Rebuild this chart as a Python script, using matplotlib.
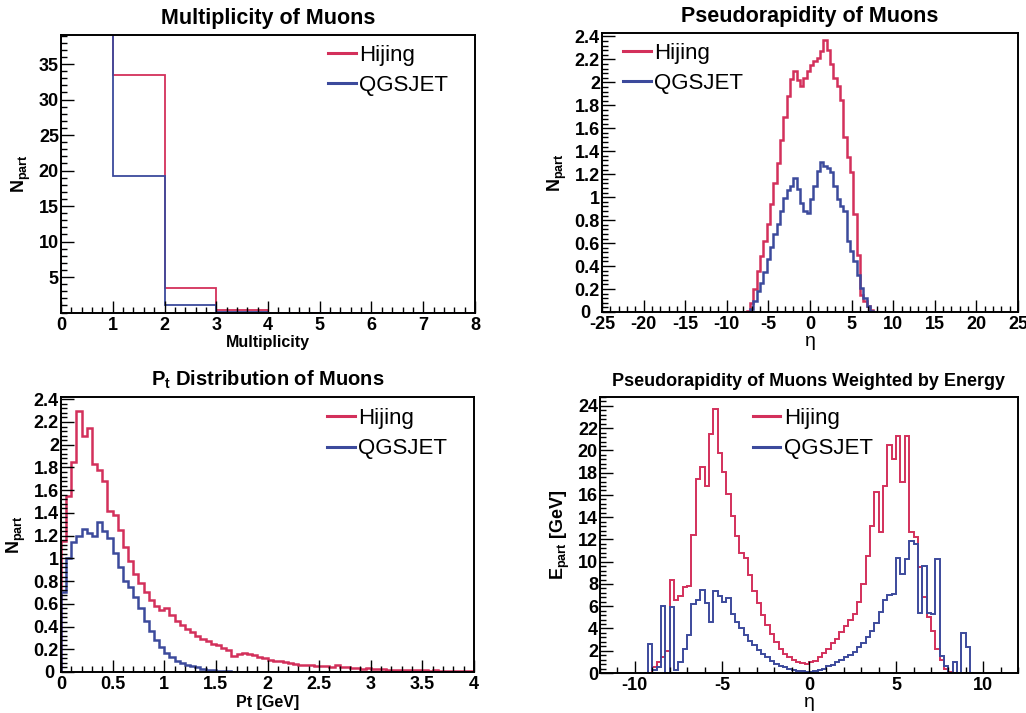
import numpy as np
import matplotlib
matplotlib.use('Agg')
import matplotlib.pyplot as plt
from matplotlib.ticker import MultipleLocator, FormatStrFormatter
from matplotlib.lines import Line2D
from matplotlib.transforms import ScaledTranslation

plt.rcParams['font.family'] = ['Liberation Sans', 'DejaVu Sans']
plt.rcParams['font.weight'] = 'bold'
plt.rcParams['axes.labelweight'] = 'bold'
plt.rcParams['mathtext.fontset'] = 'custom'
plt.rcParams['mathtext.rm'] = 'Liberation Sans:bold'
plt.rcParams['mathtext.bf'] = 'Liberation Sans:bold'
plt.rcParams['mathtext.it'] = 'Liberation Sans:bold'

RED = '#d3305b'
BLUE = '#3c4a9c'

# ---- multiplicity of muons (bins of 1)
mult_edges = [0, 1, 2, 3, 4, 5, 6, 7, 8]
mult_hijing = [52.0, 33.5, 3.4, 0.3, 0, 0, 0, 0]
mult_qgsjet = [47.0, 19.3, 1.0, 0.1, 0, 0, 0, 0]

# ---- pseudorapidity of muons (bins of 0.4 from -8 to 8)
eta_lo, eta_hi, eta_bin = -8.0, 8.0, 0.4
eta_hijing = [0.0, 0.01, 0.08, 0.20, 0.36, 0.49, 0.62, 0.77, 0.94, 1.12,
              1.30, 1.50, 1.70, 1.88, 2.03, 2.10, 2.02, 1.97, 2.04, 2.10,
              2.15, 2.19, 2.21, 2.27, 2.37, 2.28, 2.16, 2.04, 1.97, 1.85,
              1.52, 1.35, 1.22, 0.85, 0.50, 0.15, 0.10, 0.05, 0.02, 0.0]
eta_qgsjet = [0.0, 0.0, 0.03, 0.10, 0.18, 0.25, 0.35, 0.46, 0.57, 0.68,
              0.77, 0.88, 0.99, 1.06, 1.10, 1.17, 1.07, 0.95, 0.88, 0.86,
              0.98, 1.10, 1.23, 1.31, 1.27, 1.25, 1.22, 1.10, 0.98, 0.92,
              0.88, 0.62, 0.53, 0.44, 0.32, 0.21, 0.12, 0.05, 0.01, 0.0]

# ---- pt distribution (bins of 0.05 GeV from 0 to 4)
pt_lo, pt_hi, pt_bin = 0.0, 4.0, 0.05
pt_hijing = [1.15, 1.55, 1.85, 2.30, 2.08, 2.15, 1.83, 1.78, 1.68, 1.42,
             1.38, 1.25, 1.10, 0.98, 0.86, 0.78, 0.70, 0.63, 0.58, 0.55,
             0.56, 0.50, 0.45, 0.41, 0.38, 0.35, 0.32, 0.29, 0.27, 0.25,
             0.24, 0.21, 0.19, 0.14, 0.16, 0.17, 0.16, 0.15, 0.13, 0.12,
             0.11, 0.10, 0.095, 0.085, 0.08, 0.07, 0.065, 0.06, 0.06, 0.055,
             0.05, 0.05, 0.045, 0.06, 0.045, 0.04, 0.035, 0.035, 0.03, 0.035,
             0.03, 0.025, 0.025, 0.02, 0.02, 0.02, 0.02, 0.018, 0.018, 0.015,
             0.015, 0.013, 0.015, 0.012, 0.012, 0.01, 0.012, 0.01, 0.01, 0.01]
pt_qgsjet = [0.70, 1.00, 1.14, 1.20, 1.26, 1.22, 1.20, 1.32, 1.24, 1.18,
             1.05, 0.92, 0.80, 0.75, 0.66, 0.56, 0.45, 0.36, 0.28, 0.22,
             0.17, 0.13, 0.10, 0.08, 0.065, 0.05, 0.04, 0.03, 0.02, 0.015,
             0.012, 0.008, 0.006, 0.004, 0.003, 0.002, 0.0, 0.0, 0.0, 0.0,
             0.0, 0.0, 0.0, 0.0, 0.0, 0.0, 0.0, 0.0, 0.0, 0.0,
             0.0, 0.0, 0.0, 0.0, 0.0, 0.0, 0.0, 0.0, 0.0, 0.0,
             0.0, 0.0, 0.0, 0.0, 0.0, 0.0, 0.0, 0.0, 0.0, 0.0,
             0.0, 0.0, 0.0, 0.0, 0.0, 0.0, 0.0, 0.0, 0.0, 0.0]

# ---- pseudorapidity weighted by energy (bins of 0.25 from -9.5 to 9.5)
ew_lo, ew_hi, ew_bin = -9.5, 9.5, 0.25
ew_hijing = [0.0, 0.0, 0.5, 1.0, 1.4, 2.0, 8.4, 6.6, 6.9, 7.7,
             7.8, 12.4, 17.4, 18.5, 16.8, 21.5, 23.7, 19.8, 18.1, 16.1,
             14.1, 12.3, 10.8, 10.3, 8.8, 7.4, 6.3, 5.2, 4.3, 3.5,
             2.8, 2.2, 1.7, 1.4, 1.15, 1.0, 0.9, 0.85,
             0.95, 1.1, 1.4, 1.8, 2.2, 2.7, 3.1, 3.7, 4.2, 4.8,
             5.3, 6.4, 8.0, 10.5, 13.2, 16.3, 12.7, 16.8, 20.5, 19.2,
             21.3, 17.2, 21.3, 12.7, 12.2, 9.5, 6.8, 5.0, 3.8, 2.2,
             1.2, 0.4, 0.1, 0.0, 0.0, 0.0, 0.0, 0.0]
ew_qgsjet = [0.0, 2.6, 0.3, 0.5, 6.0, 0.0, 5.9, 0.3, 1.0, 2.2,
             3.4, 6.2, 6.6, 7.5, 6.3, 4.6, 7.4, 6.9, 6.4, 6.7,
             5.3, 4.6, 4.0, 3.4, 2.9, 2.5, 2.1, 1.7, 1.4, 1.1,
             0.85, 0.65, 0.5, 0.37, 0.27, 0.2, 0.15, 0.12,
             0.1, 0.15, 0.25, 0.4, 0.6, 0.75, 0.95, 1.15, 1.4, 1.65,
             1.9, 2.3, 2.7, 3.2, 3.8, 4.5, 5.5, 6.6, 7.0, 7.1,
             10.3, 8.9, 10.2, 11.9, 11.6, 5.4, 9.6, 5.4, 5.3, 10.2,
             1.5, 0.6, 0.0, 1.0, 0.0, 3.6, 2.3, 0.0]


def edges(lo, hi, w):
    return np.linspace(lo, hi, int(round((hi - lo) / w)) + 1)


def style(ax, xmaj, xmin, ymaj, ymin, xfmt='%g', yfmt='%g'):
    ax.xaxis.set_major_locator(MultipleLocator(xmaj))
    ax.xaxis.set_minor_locator(MultipleLocator(xmin))
    ax.yaxis.set_major_locator(MultipleLocator(ymaj))
    ax.yaxis.set_minor_locator(MultipleLocator(ymin))
    ax.xaxis.set_major_formatter(FormatStrFormatter(xfmt))
    ax.yaxis.set_major_formatter(FormatStrFormatter(yfmt))
    ax.tick_params(which='both', direction='in', top=False, right=False,
                   labelsize=13, width=1.0)
    ax.tick_params(axis='x', pad=3)
    ax.tick_params(axis='y', pad=1.5)
    ax.tick_params(which='major', length=9)
    ax.tick_params(which='minor', length=4.5)
    for s in ax.spines.values():
        s.set_linewidth(1.4)


def legend(ax, x, y):
    h = [Line2D([], [], color=RED, lw=2.2), Line2D([], [], color=BLUE, lw=2.2)]
    ax.legend(h, ['Hijing', 'QGSJET'], loc='upper left', bbox_to_anchor=(x, y),
              frameon=False, prop={'size': 16, 'weight': 'normal'},
              handlelength=1.25, handletextpad=0.15, labelspacing=0.42,
              borderpad=0, borderaxespad=0)


W, H = 1026, 713
fig = plt.figure(figsize=(W / 100, H / 100), dpi=100)


def add_axes(l, r, t, b):
    return fig.add_axes([l / W, 1 - b / H, (r - l) / W, (b - t) / H])


# panel 1
ax1 = add_axes(61, 475, 35, 312.5)
ax1.stairs(mult_hijing, mult_edges, color=RED, lw=1.3, baseline=0)
ax1.stairs(mult_qgsjet, mult_edges, color=BLUE, lw=1.3, baseline=0)
ax1.set_xlim(0, 8)
ax1.set_ylim(0, 39.1)
style(ax1, 1, 0.2, 5, 1)
ax1.set_yticks([5, 10, 15, 20, 25, 30, 35])
ax1.set_title('Multiplicity of Muons', fontsize=15.5, fontweight='bold', pad=8)
ax1.set_xlabel('Multiplicity', fontsize=11.5, fontweight='bold', labelpad=1)
ax1.set_ylabel(r'$\mathrm{N_{part}}$', fontsize=13, labelpad=4)
legend(ax1, 0.645, 0.965)

# panel 2
ax2 = add_axes(602, 1018, 33, 312)
ax2.stairs(eta_hijing, edges(eta_lo, eta_hi, eta_bin), color=RED, lw=1.8, baseline=0)
ax2.stairs(eta_qgsjet, edges(eta_lo, eta_hi, eta_bin), color=BLUE, lw=1.8, baseline=0)
ax2.set_xlim(-25, 25)
ax2.set_ylim(0, 2.43)
style(ax2, 5, 1, 0.2, 0.04)
ax2.set_yticks(np.round(np.arange(0, 2.41, 0.2), 1))
ax2.set_title('Pseudorapidity of Muons', fontsize=15.5, fontweight='bold', pad=8)
ax2.set_xlabel('η', fontsize=14, fontweight='normal', labelpad=0)
ax2.set_ylabel(r'$\mathrm{N_{part}}$', fontsize=13, labelpad=4)
legend(ax2, 0.05, 0.965)

# panel 3
ax3 = add_axes(61, 474, 397, 672)
ax3.stairs(pt_hijing, edges(pt_lo, pt_hi, pt_bin), color=RED, lw=1.8, baseline=0)
ax3.stairs(pt_qgsjet, edges(pt_lo, pt_hi, pt_bin), color=BLUE, lw=1.8, baseline=0)
ax3.set_xlim(0, 4)
ax3.set_ylim(0, 2.42)
style(ax3, 0.5, 0.1, 0.2, 0.04)
ax3.set_yticks(np.round(np.arange(0, 2.41, 0.2), 1))
ax3.set_title(r'P$_\mathrm{t}$ Distribution of Muons', fontsize=14.5, fontweight='bold', pad=8)
ax3.set_xlabel('Pt [GeV]', fontsize=11.5, fontweight='bold', labelpad=1)
ax3.set_ylabel(r'$\mathrm{N_{part}}$', fontsize=13, labelpad=4)
legend(ax3, 0.645, 0.96)

# panel 4
ax4 = add_axes(600, 1018, 397, 673)
ax4.stairs(ew_hijing, edges(ew_lo, ew_hi, ew_bin), color=RED, lw=1.4, baseline=0)
ax4.stairs(ew_qgsjet, edges(ew_lo, ew_hi, ew_bin), color=BLUE, lw=1.4, baseline=0)
ax4.set_xlim(-12, 12)
ax4.set_ylim(0, 24.8)
style(ax4, 5, 1, 2, 0.4)
ax4.set_title('Pseudorapidity of Muons Weighted by Energy', fontsize=13, fontweight='bold', pad=8)
ax4.set_xlabel('η', fontsize=14, fontweight='normal', labelpad=0)
ax4.set_ylabel(r'$\mathrm{E_{part}}$ [GeV]', fontsize=13, fontweight='bold', labelpad=4)
legend(ax4, 0.365, 0.96)

# nudge the corner "0" of the y axis left so it clears the first x label
fig.canvas.draw()
for ax, dx in ((ax2, 10), (ax3, 5)):
    lab = ax.get_yticklabels()[0]
    lab.set_transform(lab.get_transform() + ScaledTranslation(-dx / 100, 0, fig.dpi_scale_trans))

fig.savefig('out.png', dpi=100)
